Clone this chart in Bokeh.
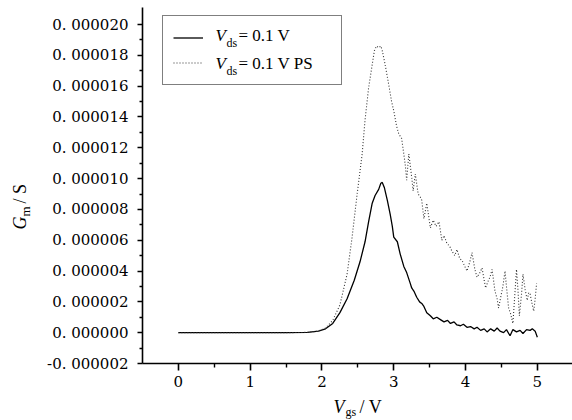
import math
from bokeh.plotting import figure
from bokeh.layouts import row, column
from bokeh.models import FixedTicker, Label, Legend, LegendItem, Range1d
from bokeh.core.properties import value
from bokeh.embed import file_html
from bokeh.resources import INLINE

# ---- data (Gm in units of 1e-6 S) ----
vgs_a = [0.0, 0.5, 1.0, 1.5, 1.8, 1.95, 2.05, 2.15, 2.25, 2.35, 2.45, 2.53, 2.60, 2.65,
         2.70, 2.74, 2.79, 2.82, 2.84, 2.87, 2.91, 2.95, 2.98, 3.00, 3.05, 3.09, 3.14,
         3.18, 3.23, 3.25, 3.28, 3.32, 3.36, 3.39, 3.42, 3.46, 3.51, 3.55, 3.60, 3.65,
         3.70, 3.75, 3.79, 3.84, 3.88, 3.93, 3.97, 4.02, 4.07, 4.12, 4.16, 4.21, 4.26,
         4.30, 4.35, 4.40, 4.44, 4.48, 4.53, 4.57, 4.62, 4.66, 4.71, 4.76, 4.80, 4.85,
         4.90, 4.93, 4.97, 5.00]
gm_a = [0.0, 0.0, 0.0, 0.0, 0.02, 0.1, 0.25, 0.6, 1.3, 2.2, 3.4, 4.6, 5.9, 7.2,
        8.4, 8.9, 9.3, 9.7, 9.75, 9.4, 8.6, 7.7, 6.9, 6.2, 5.9, 5.1, 4.3,
        3.9, 3.2, 2.9, 2.7, 2.3, 2.0, 1.9, 1.7, 1.3, 1.1, 0.9, 1.0, 0.85,
        0.7, 0.8, 0.6, 0.7, 0.5, 0.45, 0.55, 0.35, 0.4, 0.25, 0.35, 0.15, 0.25,
        0.05, 0.25, 0.1, 0.3, 0.1, 0.0, 0.2, -0.2, 0.2, 0.05, 0.15, -0.05, 0.2,
        0.15, 0.25, 0.1, -0.3]

vgs_b = [0.0, 0.5, 1.0, 1.5, 1.8, 1.95, 2.05, 2.15, 2.25, 2.35, 2.42, 2.49, 2.56, 2.60,
         2.65, 2.70, 2.73, 2.76, 2.79, 2.82, 2.84, 2.88, 2.93, 2.97, 3.00, 3.04, 3.07,
         3.11, 3.14, 3.16, 3.18, 3.21, 3.25, 3.27, 3.30, 3.34, 3.37, 3.39, 3.42, 3.46,
         3.51, 3.55, 3.59, 3.63, 3.67, 3.70, 3.74, 3.78, 3.81, 3.85, 3.88, 3.92, 3.95,
         3.99, 4.02, 4.06, 4.09, 4.13, 4.16, 4.20, 4.23, 4.26, 4.28, 4.31, 4.34, 4.37,
         4.39, 4.41, 4.44, 4.46, 4.49, 4.52, 4.55, 4.57, 4.60, 4.63, 4.66, 4.68, 4.71,
         4.73, 4.75, 4.78, 4.80, 4.83, 4.86, 4.88, 4.90, 4.93, 4.95, 4.97, 4.99]
gm_b = [0.0, 0.0, 0.0, 0.0, 0.02, 0.1, 0.3, 0.8, 1.8, 3.8, 6.2, 9.0, 11.6, 13.8,
        15.9, 17.4, 18.3, 18.6, 18.5, 18.6, 18.3, 17.4, 16.1, 15.0, 14.4, 13.4, 12.9,
        12.6, 11.6, 10.9, 9.9, 11.6, 10.1, 9.2, 10.3, 9.0, 8.8, 8.6, 7.4, 8.4,
        6.8, 7.3, 6.9, 7.2, 6.0, 6.3, 5.8, 5.6, 5.3, 5.0, 5.4, 4.8, 4.7,
        4.3, 4.0, 4.6, 5.2, 4.1, 3.6, 3.9, 4.2, 3.4, 2.9, 3.3, 3.6, 4.1,
        3.4, 2.7, 2.2, 1.6, 2.3, 3.0, 4.0, 3.0, 1.6, 1.2, 0.6, 2.0, 4.1,
        2.8, 1.1, 2.5, 3.8, 2.8, 2.1, 2.6, 2.5, 1.8, 1.4, 2.2, 3.2]

x_ticks = [0, 1, 2, 3, 4, 5]
x_minor = [0.5, 1.5, 2.5, 3.5, 4.5]
y_ticks = [-2, 0, 2, 4, 6, 8, 10, 12, 14, 16, 18, 20]
y_minor = [-1, 1, 3, 5, 7, 9, 11, 13, 15, 17, 19]
y_tick_labels = ["-0. 000002", "0. 000000", "0. 000002", "0. 000004", "0. 000006",
                 "0. 000008", "0. 000010", "0. 000012", "0. 000014", "0. 000016",
                 "0. 000018", "0. 000020"]
x_title = ["V", "gs", "/ V"]
y_title = ["G", "m", "/  S"]
legend_names = ["= 0.1 V", "= 0.1 V   PS"]

# ---- layout (page pixels) ----
W, H = 572, 420
LW = 40          # width of the left strip holding the y title
BH = 23          # height of the bottom strip holding the x title
X0, X1 = -0.5, 5.49
FL, FR, FT, FB = 142, 572, 7, 363
Y0 = -2.0
Y1 = 20.0 + (24 - FT) * 22.0 / (363 - 24)
FONT = "Liberation Serif"
SHIFT = 5        # Bokeh draws an alphabetic baseline ~5px below the anchor at 17-18px


def fx(px):
    return X0 + (px - FL) * (X1 - X0) / (FR - FL)


def fy(py):
    return Y1 - (py - FT) * (Y1 - Y0) / (FB - FT)


p = figure(width=W - LW, height=H - BH, output_backend="svg", toolbar_location=None,
           x_range=Range1d(X0, X1), y_range=Range1d(Y0, Y1),
           min_border_left=FL - LW, min_border_right=W - FR, min_border_top=FT,
           min_border_bottom=H - BH - FB)
p.outline_line_color = None
p.xgrid.visible = False
p.ygrid.visible = False

for ax in (p.xaxis[0], p.yaxis[0]):
    ax.axis_line_width = 1.6
    ax.axis_line_color = "black"
    ax.major_tick_line_width = 1.6
    ax.minor_tick_line_width = 1.4
    ax.major_tick_line_color = "black"
    ax.minor_tick_line_color = "black"
    ax.major_tick_in = 0
    ax.minor_tick_in = 0
    ax.major_label_text_font = "DejaVu Serif"
    ax.major_label_text_color = "black"

p.xaxis.ticker = FixedTicker(ticks=x_ticks, minor_ticks=x_minor)
p.xaxis.major_tick_out = 7
p.xaxis.minor_tick_out = 4
p.xaxis.major_label_standoff = 5
p.xaxis.major_label_text_font_size = "15px"

p.yaxis.ticker = FixedTicker(ticks=y_ticks, minor_ticks=y_minor)
p.yaxis.major_label_overrides = {t: s for t, s in zip(y_ticks, y_tick_labels)}
p.yaxis.major_tick_out = 5
p.yaxis.minor_tick_out = 3
p.yaxis.major_label_standoff = 9
p.yaxis.major_label_text_font_size = "15px"

r_a = p.line(vgs_a, gm_a, line_color="black", line_width=1.3)
r_b = p.line(vgs_b, gm_b, line_color="#333333", line_width=1.1, line_dash="1 2")

legend = Legend(items=[LegendItem(label=" ", renderers=[r_a]),
                       LegendItem(label=" ", renderers=[r_b])],
                location=(20, 278), padding=10, spacing=2, margin=0,
                glyph_width=30, glyph_height=23, label_height=23, label_width=123,
                label_standoff=5, border_line_color="black", border_line_width=1.2,
                background_fill_color="white", background_fill_alpha=0.0)
p.add_layout(legend)


def lab(px, py, text, size, style="normal"):
    p.add_layout(Label(x=fx(px), y=fy(py), text=text, text_font=FONT,
                       text_font_size=size, text_font_style=style,
                       text_color="black", text_baseline="alphabetic",
                       text_align="left", level="overlay"))


# legend texts (subscripted)
for base, rest in zip((40, 68), legend_names):
    lab(215, base - SHIFT, "V", "17px", "italic")
    lab(226, base + 5 - 3, "ds", "12px")
    lab(238, base - SHIFT, rest, "17px")

# bottom strip: x-axis title, sharing the main x range and side borders
bx = figure(width=W - LW, height=BH, output_backend="svg", toolbar_location=None,
            x_range=p.x_range, y_range=Range1d(BH, 0),
            x_axis_type=None, y_axis_type=None,
            min_border_left=FL - LW, min_border_right=W - FR,
            min_border_top=0, min_border_bottom=0)
bx.outline_line_color = None
by0 = H - BH
bx.text(x=[fx(333)], y=[411 - SHIFT - by0], text=[x_title[0]], text_font=value(FONT),
        text_font_size=value("18px"), text_font_style="italic",
        text_baseline="alphabetic", text_align="left", text_color="black")
bx.text(x=[fx(345)], y=[414 - 3 - by0], text=[x_title[1]], text_font=value(FONT),
        text_font_size=value("12px"), text_baseline="alphabetic",
        text_align="left", text_color="black")
bx.text(x=[fx(359)], y=[411 - SHIFT - by0], text=[x_title[2]], text_font=value(FONT),
        text_font_size=value("18px"), text_baseline="alphabetic",
        text_align="left", text_color="black")

# left strip: y-axis title, rotated
ly = figure(width=LW, height=H, output_backend="svg", toolbar_location=None,
            x_range=Range1d(0, LW), y_range=Range1d(H, 0),
            x_axis_type=None, y_axis_type=None,
            min_border_left=0, min_border_right=0, min_border_top=0, min_border_bottom=0)
ly.outline_line_color = None
ang = math.pi / 2
ly.text(x=[25 - 6], y=[229], text=[y_title[0]], text_font=value(FONT),
        text_font_size=value("18px"), text_font_style="italic", angle=ang,
        text_baseline="alphabetic", text_align="left", text_color="black")
ly.text(x=[29 - 4], y=[216], text=[y_title[1]], text_font=value(FONT),
        text_font_size=value("13px"), angle=ang,
        text_baseline="alphabetic", text_align="left", text_color="black")
ly.text(x=[25 - 6], y=[203], text=[y_title[2]], text_font=value(FONT),
        text_font_size=value("18px"), angle=ang,
        text_baseline="alphabetic", text_align="left", text_color="black")

layout = row(ly, column(p, bx, spacing=0), spacing=0)
open("out.html", "w").write(file_html(layout, INLINE))
